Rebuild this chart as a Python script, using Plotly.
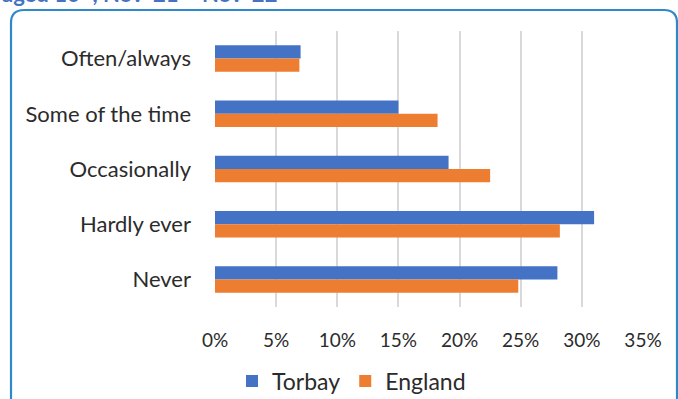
import plotly.graph_objects as go

categories = ["Often/always", "Some of the time", "Occasionally", "Hardly ever", "Never"]
torbay = [0.070, 0.150, 0.191, 0.310, 0.280]
england = [0.069, 0.182, 0.225, 0.282, 0.248]
series_names = ["Torbay", "England"]
tick_vals = [0, 0.05, 0.10, 0.15, 0.20, 0.25, 0.30, 0.35]
tick_text = ["0%", "5%", "10%", "15%", "20%", "25%", "30%", "35%"]

W, H = 678, 399
L, R, T, B = 215, 35, 31, 92
pw, ph = W - L - R, H - T - B

def px(x):
    return (x - L) / pw

def py(y):
    return (H - B - y) / ph

FONT = "Lato"
TXT = "#2b2b2b"

fig = go.Figure()
fig.add_trace(go.Bar(y=categories, x=torbay, name=series_names[0], orientation="h",
                     marker=dict(color="#4472C4", line=dict(width=0))))
fig.add_trace(go.Bar(y=categories, x=england, name=series_names[1], orientation="h",
                     marker=dict(color="#ED7D31", line=dict(width=0))))

# rounded border
x0, x1, y0, r = 11, 677, 10, 13
yb = 420
path = (f"M {px(x0)},{py(yb)} L {px(x0)},{py(y0 + r)} "
        f"Q {px(x0)},{py(y0)} {px(x0 + r)},{py(y0)} "
        f"L {px(x1 - r)},{py(y0)} Q {px(x1)},{py(y0)} {px(x1)},{py(y0 + r)} "
        f"L {px(x1)},{py(yb)}")
fig.add_shape(type="path", path=path, xref="paper", yref="paper",
              line=dict(color="#2E88CC", width=2.2), layer="above")

fig.add_annotation(text="<b>aged 16+, Nov '21 \u2013 Nov '22</b>", xref="paper", yref="paper",
                   x=px(0), y=py(9), xanchor="left", yanchor="bottom", showarrow=False,
                   font=dict(family=FONT, size=22, color="#4472C4"))

fig.update_layout(
    width=W, height=H,
    margin=dict(l=L, r=R, t=T, b=B, autoexpand=False),
    paper_bgcolor="white", plot_bgcolor="white",
    barmode="group", bargap=0.52, bargroupgap=0,
    font=dict(family=FONT, size=19, color=TXT),
    legend=dict(orientation="h", x=px(232), y=py(381), xanchor="left", yanchor="middle",
                font=dict(family=FONT, size=23, color=TXT), traceorder="normal",
                itemwidth=30),
    showlegend=True,
)
fig.update_xaxes(range=[0, 0.35], tickvals=tick_vals, ticktext=tick_text,
                 showgrid=True, gridcolor="#D9D9D9", gridwidth=1.5,
                 zeroline=False, showline=False, ticks="", ticklabelstandoff=20,
                 tickfont=dict(family=FONT, size=19, color=TXT), fixedrange=True)
fig.update_yaxes(autorange="reversed", showgrid=False, zeroline=False, showline=False,
                 ticks="", ticklabelstandoff=23,
                 tickfont=dict(family=FONT, size=22, color=TXT), fixedrange=True)

fig.write_html("out.html")
